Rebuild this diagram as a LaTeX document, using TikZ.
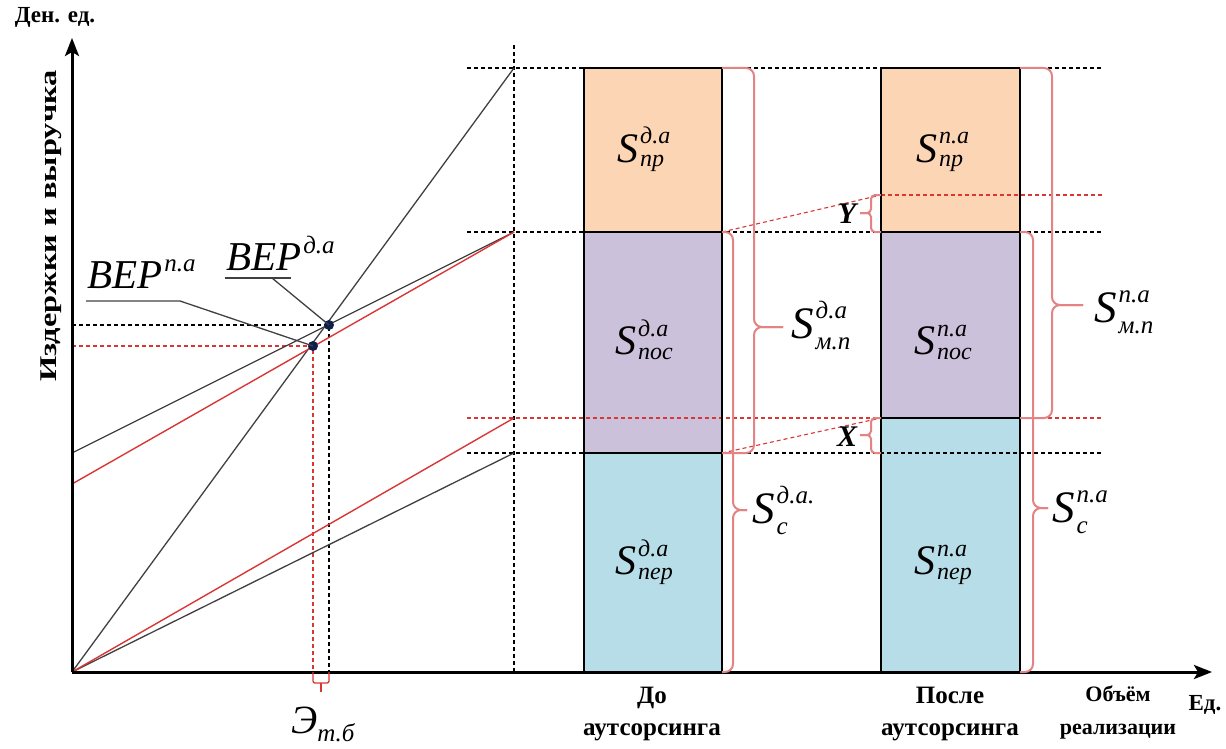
\documentclass[tikz,border=0pt]{standalone}
\usepackage{fontspec}
\usepackage{graphicx}
\setmainfont{Liberation Serif}
\usetikzlibrary{arrows.meta}
\definecolor{peach}{HTML}{FCD5B5}
\definecolor{lav}{HTML}{CCC1DA}
\definecolor{lblue}{HTML}{B7DEE8}
\definecolor{rline}{HTML}{D93636}
\definecolor{rbr}{HTML}{E38383}
\definecolor{gline}{HTML}{404040}
\definecolor{navy}{HTML}{0F1E4A}
% brace labels: big S, scripts 20pt above / 10pt below baseline
\newcommand\Slab[3]{{\fontsize{45}{45}\selectfont\itshape #1}\kern2pt\raisebox{-11pt}{\fontsize{25}{31}\selectfont\itshape\begin{tabular}[b]{@{}l@{}}#2\\#3\end{tabular}}}
% box labels
\newcommand\Sbox[3]{{\fontsize{42}{42}\selectfont\itshape #1}\kern2pt\raisebox{-5pt}{\fontsize{24}{23}\selectfont\itshape\begin{tabular}[b]{@{}l@{}}#2\\#3\end{tabular}}}
\newcommand\BEPlab[1]{{\fontsize{41}{41}\selectfont\itshape BEP}\kern2pt\raisebox{17pt}{\fontsize{25}{25}\selectfont\itshape #1}}
\begin{document}
\begin{tikzpicture}[x=1pt,y=-1pt,
 axis/.style={line width=3pt,-{Stealth[length=18pt,width=14pt,inset=4pt]}},
 gl/.style={gline,line width=1.3pt},
 rl/.style={rline,line width=1.4pt},
 gdash/.style={black,line width=1.1pt,dash pattern=on 4pt off 3pt},
 rdash/.style={rline,line width=1.1pt,dash pattern=on 4pt off 3pt},
 boxst/.style={draw=black,line width=2.5pt},
 brc/.style={rbr,line width=2pt,rounded corners=8pt},
 sbrc/.style={rbr,line width=2pt,rounded corners=4pt},
 lbl/.style={font=\fontsize{25}{32}\selectfont\bfseries,align=center,inner sep=0pt},
 dot/.style={circle,fill=navy,inner sep=0pt,minimum size=10pt},
 wlab/.style={inner sep=0pt,anchor=base west},
]
\useasboundingbox (0,0) rectangle (1226,749);
% key coordinates
\coordinate (O) at (72,672);
\coordinate (Ytop) at (72,38);
\coordinate (Xend) at (1212,672);
\coordinate (Rend) at (514,68);
\coordinate (TCa) at (72,453);
\coordinate (TCb) at (72,484);
\coordinate (TCend) at (514,232);
\coordinate (VCa) at (514,453);
\coordinate (VCb) at (514,418);
\coordinate (BEPd) at (329,325);
\coordinate (BEPp) at (313,346);
% boxes fills
\fill[peach] (584,68) rectangle (722,232);
\fill[lav] (584,232) rectangle (722,453);
\fill[lblue] (584,453) rectangle (722,672);
\fill[peach] (881,68) rectangle (1020,232);
\fill[lav] (881,232) rectangle (1020,418);
\fill[lblue] (881,418) rectangle (1020,672);
% dashed guides
\draw[gdash] (514,45) -- (514,672);
\draw[gdash] (467,68) -- (1103,68);
\draw[gdash] (467,232) -- (1103,232);
\draw[gdash] (467,453) -- (1103,453);
\draw[rdash] (467,418) -- (1103,418);
\draw[rdash] (881,195) -- (1103,195);
\draw[rdash] (722,232) -- (881,195);
\draw[rdash] (722,453) -- (881,418);
\draw[gdash] (72,325) -- (BEPd) -- (329,672);
\draw[rdash] (72,346) -- (BEPp) -- (313,672);
% chart lines
\draw[gl] (O) -- (Rend);
\draw[gl] (TCa) -- (TCend);
\draw[gl] (O) -- (VCa);
\draw[rl] (TCb) -- (TCend);
\draw[rl] (O) -- (VCb);
% box borders
\draw[boxst] (584,68) rectangle (722,672);
\draw[boxst] (584,232) -- (722,232) (584,453) -- (722,453);
\draw[boxst] (881,68) rectangle (1020,672);
\draw[boxst] (881,232) -- (1020,232) (881,418) -- (1020,418);
% axes
\draw[axis] (O) -- (Ytop);
\draw[axis] (O) -- (Xend);
% BEP points and leaders
\node[dot] (bd) at (BEPd) {};
\node[dot] (bp) at (BEPp) {};
\node[wlab] (lbp) at (87,288) {\BEPlab{п.а}};
\node[wlab] (lbd) at (226,270) {\BEPlab{д.а}};
\draw[gl] (86,301) -- (180,301) -- (bp.center);
\draw[gl] (225,278) -- (291,278);
\draw[gl] (272,278) -- (bd.center);
% bracket at threshold
\draw[rline,line width=1.3pt,rounded corners=2pt] (313,672) -- (313,683) -- (329,683) -- (329,672);
\draw[rline,line width=1.3pt] (321,683) -- (321,692);
\node[wlab] (eth) at (291,733) {{\fontsize{40}{40}\selectfont\itshape Э}\raisebox{-8pt}{\fontsize{25}{25}\selectfont\itshape т.б}};
% braces box 1
\draw[brc] (722,68) -- (754,68) -- (754,327) -- (783,327);
\draw[brc] (722,453) -- (754,453) -- (754,327) -- (783,327);
\draw[brc] (722,232) -- (733,232) -- (733,510) -- (747,510);
\draw[brc] (722,672) -- (733,672) -- (733,510) -- (747,510);
% braces box 2
\draw[brc] (1020,68) -- (1052,68) -- (1052,305) -- (1083,305);
\draw[brc] (1020,418) -- (1052,418) -- (1052,305) -- (1083,305);
\draw[brc] (1020,232) -- (1033,232) -- (1033,508) -- (1048,508);
\draw[brc] (1020,672) -- (1033,672) -- (1033,508) -- (1048,508);
% small braces X, Y
\draw[sbrc] (881,195) -- (871,195) -- (871,213) -- (860,213);
\draw[sbrc] (881,232) -- (871,232) -- (871,213) -- (860,213);
\draw[sbrc] (881,418) -- (871,418) -- (871,435) -- (860,435);
\draw[sbrc] (881,453) -- (871,453) -- (871,435) -- (860,435);
\node[inner sep=0pt,font=\fontsize{30}{30}\selectfont\bfseries\itshape] (ly) at (847,214) {Y};
\node[inner sep=0pt,font=\fontsize{30}{30}\selectfont\bfseries\itshape] (lx) at (847,437) {X};
% box labels
\node[wlab] (s1) at (617,162) {\Sbox{S}{д.а}{пр}};
\node[wlab] (s2) at (615,354) {\Sbox{S}{д.а}{пос}};
\node[wlab] (s3) at (615,574) {\Sbox{S}{д.а}{пер}};
\node[wlab] (s4) at (916,162) {\Sbox{S}{п.а}{пр}};
\node[wlab] (s5) at (914,354) {\Sbox{S}{п.а}{пос}};
\node[wlab] (s6) at (914,574) {\Sbox{S}{п.а}{пер}};
% brace labels
\node[wlab] (s7) at (791,338) {\Slab{S}{д.а}{м.п}};
\node[wlab] (s8) at (752,523) {\Slab{S}{д.а.}{c}};
\node[wlab] (s9) at (1094,322) {\Slab{S}{п.а}{м.п}};
\node[wlab] (s10) at (1052,522) {\Slab{S}{п.а}{c}};
% axis labels
\node[lbl,font=\fontsize{23}{30}\selectfont\bfseries] (yl) at (55,17) {Ден. ед.};
\node[lbl,rotate=90] (ylab) at (51,226) {\scalebox{1.35}[1]{\fontsize{24}{30}\selectfont\bfseries Издержки и выручка}};
\node[lbl,font=\fontsize{23}{30}\selectfont\bfseries] (xl) at (1205,705) {Ед.};
\node[lbl] (c1) at (652,714) {До\\аутсорсинга};
\node[lbl] (c2) at (950,714) {После\\аутсорсинга};
\node[lbl,font=\fontsize{22}{33}\selectfont\bfseries] (c3) at (1118,712) {Объём\\реализации};
\end{tikzpicture}
\end{document}
